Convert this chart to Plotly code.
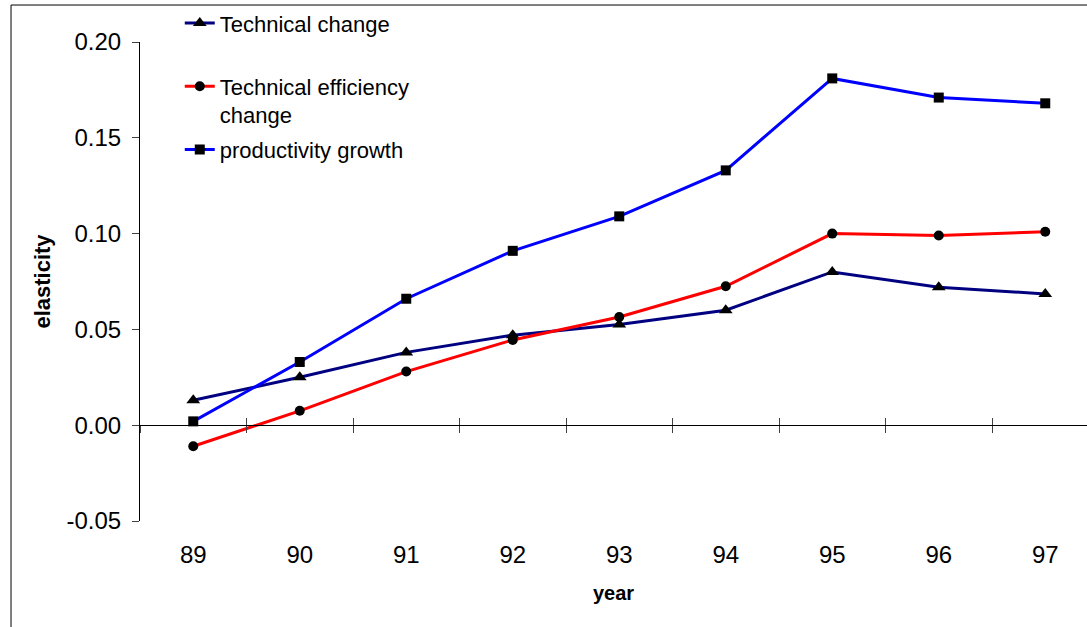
import plotly.graph_objects as go

# Years on the category axis
years = ["89", "90", "91", "92", "93", "94", "95", "96", "97"]

# Decomposition of productivity growth (elasticities)
technical_change = [0.013, 0.025, 0.038, 0.047, 0.0525, 0.060, 0.080, 0.072, 0.0685]
efficiency_change = [-0.011, 0.0075, 0.028, 0.0445, 0.0565, 0.0725, 0.100, 0.099, 0.101]
productivity_growth = [0.002, 0.033, 0.066, 0.091, 0.109, 0.133, 0.181, 0.171, 0.168]

y_ticks = [-0.05, 0.0, 0.05, 0.10, 0.15, 0.20]
y_tick_text = ["-0.05", "0.00", "0.05", "0.10", "0.15", "0.20"]

FONT = "Liberation Sans, Arial, sans-serif"
X_RANGE = [-0.5, 8.392]
Y_RANGE = [-0.05, 0.20]
zero_pos = (0 - Y_RANGE[0]) / (Y_RANGE[1] - Y_RANGE[0])

fig = go.Figure()

series = [
    ("Technical change<br> ", technical_change, "#000080", "triangle-up", 12),
    ("Technical efficiency<br>change", efficiency_change, "#FF0000", "circle", 10),
    ("productivity growth", productivity_growth, "#0000FF", "square", 10),
]
for i, (name, vals, color, symbol, size) in enumerate(series):
    fig.add_trace(go.Scatter(
        x=years, y=vals, name=name, mode="lines+markers",
        line=dict(color=color, width=3),
        marker=dict(symbol=symbol, size=size, color="black"),
        legendgroup=f"g{i}",
    ))

# Empty traces so the two overlay axes (zero line with cross ticks) get drawn
for ax in ("x2", "x3"):
    fig.add_trace(go.Scatter(x=[], y=[], xaxis=ax, yaxis="y",
                             showlegend=False, hoverinfo="skip"))

# Frame around the chart (only its top and left edges fall inside the page)
fig.add_shape(type="rect", xref="paper", yref="paper",
              x0=-0.1362, x1=1.3, y0=-0.6, y1=1.0772,
              line=dict(color="black", width=1), fillcolor="rgba(0,0,0,0)",
              layer="below")

fig.update_layout(
    width=1087, height=627,
    margin=dict(l=140, r=0, t=42, b=106),
    paper_bgcolor="white", plot_bgcolor="white",
    font=dict(family=FONT, color="black"),
    showlegend=True,
    legend=dict(
        x=0.042, y=1.083, xanchor="left", yanchor="top",
        font=dict(family=FONT, size=22, color="black"),
        bgcolor="rgba(0,0,0,0)", tracegroupgap=3, valign="top",
    ),
    xaxis=dict(
        type="category", range=X_RANGE,
        showline=False, ticks="", showgrid=False, zeroline=False,
        tickfont=dict(family=FONT, size=24, color="black"),
        ticklabelstandoff=17,
        title=dict(text="<b>year</b>", font=dict(family=FONT, size=20, color="black"),
                   standoff=18),
    ),
    # Horizontal axis line at zero with cross tick marks between categories
    xaxis2=dict(
        overlaying="x", anchor="free", position=zero_pos, side="bottom",
        type="linear", range=X_RANGE, tick0=-0.5, dtick=1,
        showline=True, linecolor="black", linewidth=1,
        ticks="outside", ticklen=7, tickcolor="#404040", tickwidth=1,
        showticklabels=False, showgrid=False, zeroline=False,
    ),
    xaxis3=dict(
        overlaying="x", anchor="free", position=zero_pos, side="bottom",
        type="linear", range=X_RANGE, tick0=-0.5, dtick=1,
        showline=False,
        ticks="inside", ticklen=7, tickcolor="#404040", tickwidth=1,
        showticklabels=False, showgrid=False, zeroline=False,
    ),
    yaxis=dict(
        range=Y_RANGE, tickvals=y_ticks, ticktext=y_tick_text,
        showline=True, linecolor="black", linewidth=1,
        ticks="outside", ticklen=7, tickcolor="#404040",
        showgrid=False, zeroline=False,
        tickfont=dict(family=FONT, size=24, color="black"),
        ticklabelstandoff=6,
        title=dict(text="<b>elasticity</b>", font=dict(family=FONT, size=22, color="black"),
                   standoff=9),
    ),
)

fig.write_html("out.html")
